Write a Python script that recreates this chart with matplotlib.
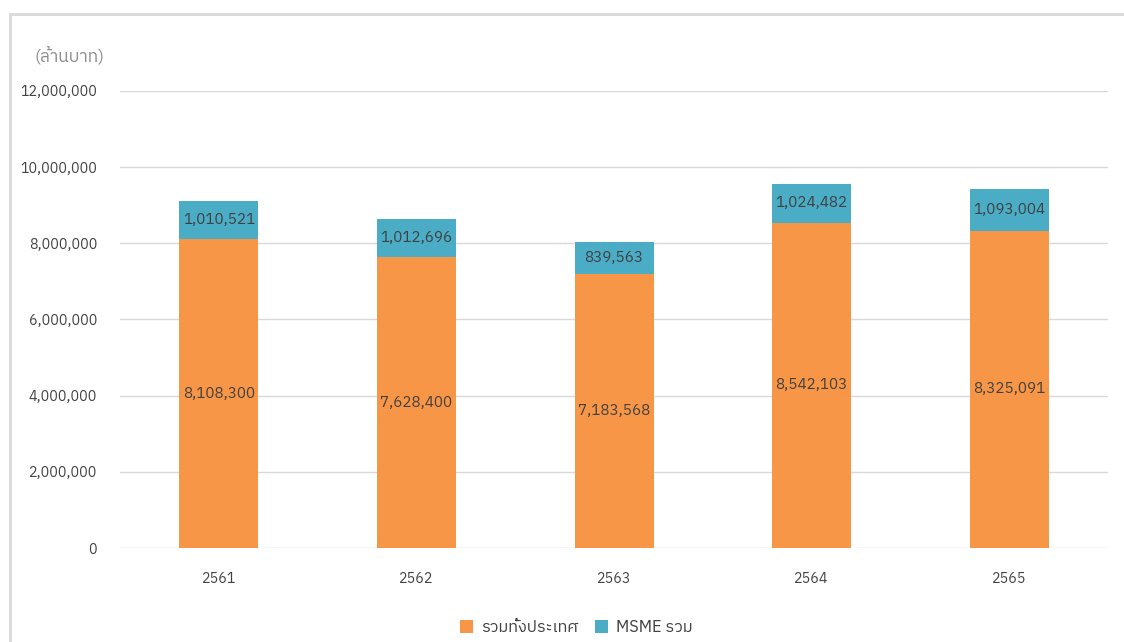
import matplotlib
matplotlib.use("Agg")
import matplotlib.pyplot as plt
from matplotlib import font_manager
from matplotlib.ft2font import FT2Font
from matplotlib.patches import Rectangle
from matplotlib.ticker import FuncFormatter

years = ['2561', '2562', '2563', '2564', '2565']
total = [8108300, 7628400, 7183568, 8542103, 8325091]
msme = [1010521, 1012696, 839563, 1024482, 1093004]
series_names = ['รวมทั้งประเทศ', 'MSME รวม']
unit_label = '(ล้านบาท)'

# find a font that can draw Thai
thai_font = None
for f in font_manager.fontManager.ttflist:
    try:
        ft = FT2Font(f.fname)
        if ft.get_char_index(ord('ร')) and ft.get_char_index(ord('0')):
            thai_font = f.name
            if 'Sans' in f.name:
                break
    except Exception:
        pass
fams = [thai_font, 'DejaVu Sans'] if thai_font else ['DejaVu Sans']
plt.rcParams['font.family'] = fams

orange = '#F79646'
teal = '#4BACC6'
txt = '#404040'

fig = plt.figure(figsize=(11.24, 6.42), dpi=100)
ax = fig.add_axes([0.1068, 0.1464, 0.879, 0.7119])

x = range(len(years))
ax.bar(x, total, width=0.4, color=orange, label=series_names[0], zorder=3)
ax.bar(x, msme, width=0.4, bottom=total, color=teal, label=series_names[1], zorder=3)

for i in x:
    ax.text(i, total[i] / 2, f'{total[i]:,}', ha='center', va='center',
            fontsize=11, color=txt, zorder=4)
    ax.text(i, total[i] + msme[i] / 2, f'{msme[i]:,}', ha='center', va='center',
            fontsize=11, color=txt, zorder=4)

ax.set_xlim(-0.5, 4.5)
ax.set_ylim(0, 12000000)
ax.set_yticks(range(0, 12000001, 2000000))
ax.yaxis.set_major_formatter(FuncFormatter(lambda v, p: f'{int(v):,}'))
ax.set_xticks(list(x))
ax.set_xticklabels(years)
ax.tick_params(axis='both', length=0, labelsize=10.3, labelcolor=txt)
ax.tick_params(axis='x', pad=17)
ax.tick_params(axis='y', pad=16.5)
ax.grid(axis='y', color='#d9d9d9', linewidth=1, zorder=0)
for s in ax.spines.values():
    s.set_visible(False)

fig.text(0.031, 0.914, unit_label, fontsize=12.5, color='#8c8c8c', va='center')

h, l = ax.get_legend_handles_labels()
fig.legend(h, l, loc='center', bbox_to_anchor=(0.5125, 1 - 627 / 642), ncol=2,
           frameon=False, fontsize=11.8, handlelength=0.8, handleheight=0.8,
           handletextpad=0.5, columnspacing=1.0, labelcolor=txt)

fig.patches.append(Rectangle((10 / 1124, -0.1), 1.2, 1 - 14 / 642 + 0.1,
                             transform=fig.transFigure, fill=False,
                             edgecolor='#d9d9d9', linewidth=2))

fig.savefig('out.png', dpi=100)
